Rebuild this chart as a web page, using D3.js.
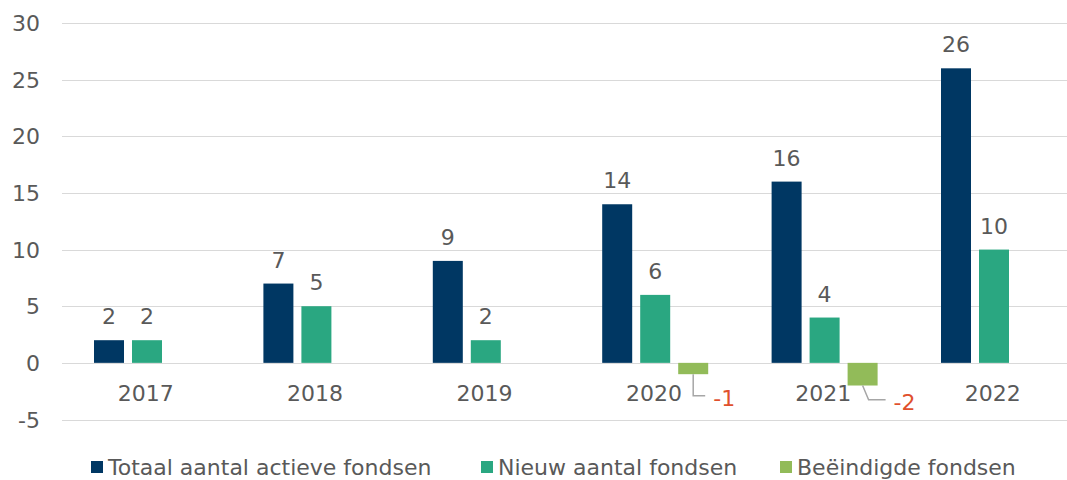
<!DOCTYPE html>
<html>
<head>
<meta charset="utf-8">
<style>
body { margin: 0; background: #fff; }
text { font-family: "DejaVu Sans", Verdana, sans-serif; fill: #595959; }
</style>
</head>
<body>
<script src="https://cdn.jsdelivr.net/npm/d3@7/dist/d3.min.js"></script>
<script>
var years = ["2017", "2018", "2019", "2020", "2021", "2022"];
var totaal = [2, 7, 9, 14, 16, 26];
var nieuw = [2, 5, 2, 6, 4, 10];
var beeindigd = [null, null, null, -1, -2, null];
var seriesNames = ["Totaal aantal actieve fondsen", "Nieuw aantal fondsen", "Beëindigde fondsen"];
var colors = ["#003763", "#2aa781", "#92bb59"];
var yTicks = [-5, 0, 5, 10, 15, 20, 25, 30];

var width = 1067, height = 480;
var fs = "22px";
var svg = d3.select("body").append("svg")
    .attr("width", width)
    .attr("height", height);

var x = d3.scaleBand().domain(years).range([62, 1078.4]).padding(0);
var y = d3.scaleLinear().domain([-5, 30]).range([419.5, 23]);
var inner = d3.scaleBand().domain([0, 1, 2]).range([32, 138]).paddingInner(8 / 38);

// gridlines
svg.append("g").selectAll("line")
  .data(yTicks).enter().append("line")
  .attr("x1", 62).attr("x2", width)
  .attr("y1", function(d) { return Math.round(y(d)) + 0.5; })
  .attr("y2", function(d) { return Math.round(y(d)) + 0.5; })
  .attr("stroke", "#d9d9d9").attr("stroke-width", 1);

// y tick labels
svg.append("g").selectAll("text")
  .data(yTicks).enter().append("text")
  .attr("x", 40).attr("y", function(d) { return y(d) + 8; })
  .attr("text-anchor", "end")
  .style("font-size", fs)
  .text(function(d) { return d; });

var series = [totaal, nieuw, beeindigd];
series.forEach(function(vals, s) {
  var g = svg.append("g");
  var data = years.map(function(yr, i) { return {yr: yr, v: vals[i]}; })
    .filter(function(d) { return d.v !== null; });
  g.selectAll("rect").data(data).enter().append("rect")
    .attr("x", function(d) { return x(d.yr) + inner(s); })
    .attr("width", inner.bandwidth())
    .attr("y", function(d) { return y(Math.max(0, d.v)); })
    .attr("height", function(d) { return Math.abs(y(d.v) - y(0)); })
    .attr("fill", colors[s]);

  if (s < 2) {
    g.selectAll("text").data(data).enter().append("text")
      .attr("x", function(d) { return x(d.yr) + inner(s) + inner.bandwidth() / 2; })
      .attr("y", function(d) { return y(d.v) - 16; })
      .attr("text-anchor", "middle")
      .style("font-size", fs)
      .text(function(d) { return d.v; });
  } else {
    // negative labels moved below the axis, with leader lines
    data.forEach(function(d) {
      var n = Math.abs(d.v);
      var cx = x(d.yr) + inner(s) + inner.bandwidth() / 2;
      var yb = y(d.v);
      var ly = y(0) + 29 + 4 * n;
      var lx = cx + 6 * (n - 1);
      var ex = lx + 12 + 5 * (n - 1);
      g.append("path")
        .attr("d", "M" + cx + "," + yb + "L" + lx + "," + ly + "L" + ex + "," + ly)
        .attr("fill", "none").attr("stroke", "#a6a6a6").attr("stroke-width", 1.5);
      g.append("text")
        .attr("x", ex + 8).attr("y", ly + 10)
        .style("font-size", fs)
        .style("fill", "#e0502c")
        .text(d.v);
    });
  }
});

// category labels
svg.append("g").selectAll("text")
  .data(years).enter().append("text")
  .attr("x", function(d) { return x(d) + x.bandwidth() / 2 - 1; })
  .attr("y", y(0) + 38)
  .attr("text-anchor", "middle")
  .style("font-size", fs)
  .text(function(d) { return d; });

// legend
var legendX = [91, 481, 780];
var lg = svg.append("g");
seriesNames.forEach(function(name, i) {
  lg.append("rect")
    .attr("x", legendX[i]).attr("y", 461)
    .attr("width", 12).attr("height", 12)
    .attr("fill", colors[i]);
  lg.append("text")
    .attr("x", legendX[i] + 17).attr("y", 475)
    .style("font-size", fs)
    .text(name);
});
</script>
</body>
</html>
